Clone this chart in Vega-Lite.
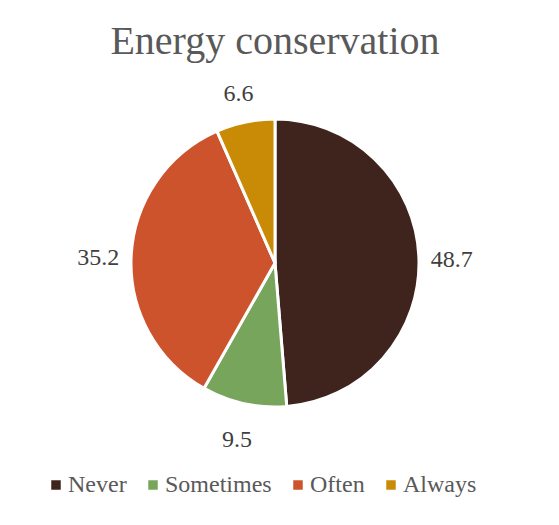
{
  "$schema": "https://vega.github.io/schema/vega-lite/v6.json",
  "autosize": {"type": "none"},
  "width": 550,
  "height": 326,
  "padding": {"left": 0, "top": 100, "right": 9, "bottom": 99},
  "background": "white",
  "title": {
    "text": "Energy conservation",
    "font": "Liberation Serif, DejaVu Serif, serif",
    "fontSize": 40,
    "fontWeight": "normal",
    "color": "#595959",
    "anchor": "middle",
    "offset": 20
  },
  "data": {
    "values": [
      {"category": "Never", "value": 48.7, "order": 1},
      {"category": "Sometimes", "value": 9.5, "order": 2},
      {"category": "Often", "value": 35.2, "order": 3},
      {"category": "Always", "value": 6.6, "order": 4}
    ]
  },
  "encoding": {
    "theta": {"field": "value", "type": "quantitative", "stack": true},
    "order": {"field": "order", "type": "quantitative"}
  },
  "layer": [
    {
      "mark": {"type": "arc", "outerRadius": 144, "stroke": "white", "strokeWidth": 3},
      "encoding": {
        "color": {
          "field": "category",
          "type": "nominal",
          "scale": {
            "domain": ["Never", "Sometimes", "Often", "Always"],
            "range": ["#3F241D", "#77A55B", "#CD532D", "#C98B05"]
          },
          "legend": {
            "title": null,
            "orient": "none",
            "direction": "horizontal",
            "legendX": 44,
            "legendY": 373,
            "symbolType": "square",
            "symbolSize": 90,
            "symbolStrokeWidth": 0,
            "symbolOpacity": 1,
            "labelFont": "Liberation Serif, DejaVu Serif, serif",
            "labelFontSize": 24,
            "labelColor": "#595959",
            "labelOffset": 0,
            "columnPadding": 14
          }
        }
      }
    },
    {
      "mark": {"type": "text", "radius": 177, "font": "Liberation Serif, DejaVu Serif, serif", "fontSize": 24, "color": "#404040", "align": "center", "baseline": "middle", "dy": 4},
      "encoding": {
        "text": {"field": "value", "type": "quantitative", "format": ".1f"}
      }
    }
  ],
  "config": {"view": {"stroke": null}}
}
